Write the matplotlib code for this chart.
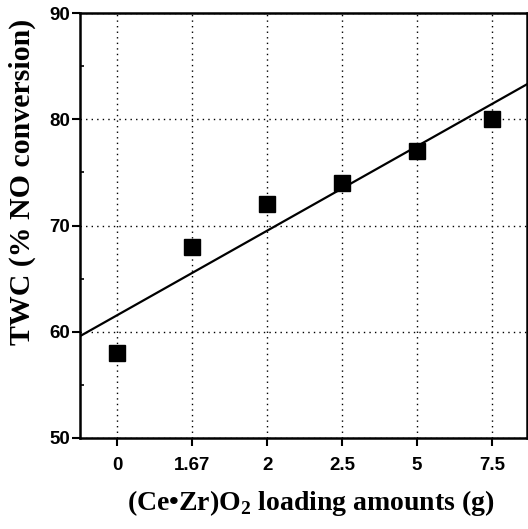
import numpy as np
import matplotlib
matplotlib.use("Agg")
import matplotlib.pyplot as plt

plt.rcParams["mathtext.fontset"] = "custom"
plt.rcParams["mathtext.rm"] = "Liberation Serif:bold"
plt.rcParams["mathtext.bf"] = "Liberation Serif:bold"

categories = ["0", "1.67", "2", "2.5", "5", "7.5"]
twc = [58, 68, 72, 74, 77, 80]

fig = plt.figure(figsize=(5.28, 5.29), dpi=100)
ax = fig.add_axes([80/528, 1-438/529, (527-80)/528, (438-13)/529])

x = np.arange(len(categories))
xlim = (-0.5, 5.47)
ax.set_xlim(*xlim)
ax.set_ylim(50, 90)

# linear fit
k, b = np.polyfit(x, twc, 1)
xx = np.array(xlim)
ax.plot(xx, k*xx + b, color="black", lw=1.6, zorder=3)

ax.plot(x, twc, linestyle="none", marker="s", markersize=11.5, color="black", zorder=4)

ax.set_xticks(x)
ax.set_xticklabels(categories)
ax.set_yticks([50, 60, 70, 80, 90])
ax.set_yticks([55, 65, 75, 85], minor=True)
ax.grid(True, which="major", axis="both", linestyle=(0, (1, 3)), color="black", lw=1.0)
ax.set_axisbelow(True)

for s in ax.spines.values():
    s.set_linewidth(1.8)
ax.tick_params(axis="both", which="major", direction="out", length=6, width=1.5,
               labelsize=13.5)
ax.tick_params(axis="y", which="minor", direction="in", length=3, width=1.2)
for lab in ax.get_xticklabels() + ax.get_yticklabels():
    lab.set_fontfamily("Liberation Sans")
    lab.set_fontweight("bold")
ax.tick_params(axis="x", pad=8)
ax.tick_params(axis="y", pad=1)

ax.set_xlabel("(Ce\u2022Zr)O$_{2}$ loading amounts (g)", fontsize=20,
              fontfamily="Liberation Serif", fontweight="bold")
ax.xaxis.set_label_coords((311 - 80) / 447, -(503 - 438) / 425, transform=ax.transAxes)
ax.xaxis.label.set_va("center")
ax.set_ylabel("TWC (% NO conversion)", fontsize=21.5,
              fontfamily="Liberation Serif", fontweight="bold")
ax.yaxis.set_label_coords(-(80 - 22) / 447, (438 - 182) / 425, transform=ax.transAxes)
ax.yaxis.label.set_va("center")

fig.savefig("out.png", dpi=100)
